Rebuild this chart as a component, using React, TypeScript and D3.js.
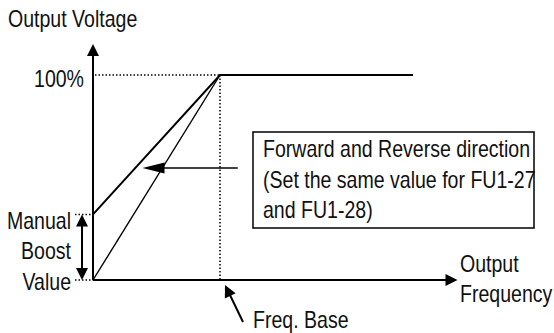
import React from 'react';
import * as d3 from 'd3';

const WIDTH = 554;
const HEIGHT = 333;

// frequency in units of base frequency, voltage in %
const BASE_FREQ = 1;
const MAX_FREQ = 2.52;
const AXIS_END_FREQ = 2.87;
const BOOST = 32;
const VOLT_TICKS = [{ v: 100, label: '100%' }];
const BOOST_LABELS = ['Manual', 'Boost', 'Value'];
const BOX_LINES = [
  'Forward and Reverse direction',
  '(Set the same value for FU1-27',
  'and FU1-28)',
];
const boostCurve = [
  { f: 0, v: BOOST },
  { f: BASE_FREQ, v: 100 },
  { f: MAX_FREQ, v: 100 },
];
const linearCurve = [
  { f: 0, v: 0 },
  { f: BASE_FREQ, v: 100 },
];

const FONT = '"Liberation Sans", Arial, sans-serif';
const NARROW = 0.85;

const x = d3.scaleLinear().domain([0, BASE_FREQ]).range([93, 220]);
const y = d3.scaleLinear().domain([0, 100]).range([280, 75]);

const line = d3.line<{ f: number; v: number }>()
  .x(d => x(d.f))
  .y(d => y(d.v));

// arrowhead polygon with tip at (tx, ty) pointing away from (fx, fy)
const head = (fx: number, fy: number, tx: number, ty: number, len = 11, half = 5.5) => {
  const a = Math.atan2(ty - fy, tx - fx);
  const bx = tx - len * Math.cos(a);
  const by = ty - len * Math.sin(a);
  const px = -Math.sin(a) * half;
  const py = Math.cos(a) * half;
  return `${tx},${ty} ${bx + px},${by + py} ${bx - px},${by - py}`;
};

// condensed text (the original uses a narrow sans)
const T = ({ x, y, anchor = 'start', children }: { x: number; y: number; anchor?: string; children: string }) => (
  <text transform={`translate(${x},${y}) scale(${NARROW},1)`} textAnchor={anchor}>{children}</text>
);

export default function App() {
  const x0 = x(0);
  const y0 = y(0);
  const yTop = 44;
  const xEnd = x(AXIS_END_FREQ);
  const yBoost = y(BOOST);
  const y100 = y(100);
  const xBase = x(BASE_FREQ);
  const dotted = { stroke: '#000', strokeWidth: 1.5, strokeDasharray: '1.5 2', fill: 'none' };

  // annotation arrow from box to the boost line
  const arrY = y(54.6);
  const arrTip = x(0.39);
  const arrTail = x(1.14);

  return (
    <svg width={WIDTH} height={HEIGHT} style={{ position: 'absolute', left: 0, top: 0, background: '#fff' }}
      fontFamily={FONT} fontSize={23} fill="#111">
      <T x={8} y={27}>Output Voltage</T>

      {/* axes */}
      <line x1={x0} y1={y0} x2={x0} y2={yTop + 8} stroke="#000" strokeWidth={2} />
      <polygon points={head(x0, y0, x0, yTop, 12, 6)} fill="#000" />
      <line x1={x0} y1={y0} x2={xEnd - 8} y2={y0} stroke="#000" strokeWidth={2} />
      <polygon points={head(x0, y0, xEnd, y0, 12, 6)} fill="#000" />

      {/* guide lines */}
      {VOLT_TICKS.map(t => (
        <g key={t.label}>
          <line x1={x0 + 2} y1={y(t.v)} x2={xBase} y2={y(t.v)} {...dotted} />
          <T x={84} y={y(t.v) + 12} anchor="end">{t.label}</T>
        </g>
      ))}
      <line x1={xBase} y1={y100} x2={xBase} y2={y0} {...dotted} />
      <line x1={75} y1={yBoost} x2={x0} y2={yBoost} {...dotted} />
      <line x1={75} y1={y0} x2={x0} y2={y0} {...dotted} />

      {/* curves */}
      <path d={line(boostCurve) || ''} fill="none" stroke="#000" strokeWidth={2} />
      <path d={line(linearCurve) || ''} fill="none" stroke="#000" strokeWidth={1.4} />

      {/* manual boost double arrow */}
      <line x1={82} y1={yBoost + 8} x2={82} y2={y0 - 8} stroke="#000" strokeWidth={2} />
      <polygon points={head(82, y0, 82, yBoost, 12, 6)} fill="#000" />
      <polygon points={head(82, yBoost, 82, y0, 12, 6)} fill="#000" />
      {BOOST_LABELS.map((s, i) => (
        <T key={s} x={71} y={[229, 259, 290][i]} anchor="end">{s}</T>
      ))}

      {/* note box */}
      <rect x={253} y={132} width={281} height={96} fill="none" stroke="#000" strokeWidth={1.5} />
      {BOX_LINES.map((s, i) => (
        <T key={s} x={263} y={157 + i * 30.5}>{s}</T>
      ))}
      <line x1={arrTail} y1={arrY} x2={arrTip + 10} y2={arrY} stroke="#000" strokeWidth={1.5} />
      <polygon points={head(arrTail, arrY, arrTip, arrY, 22, 5.5)} fill="#000" />

      {/* freq base */}
      <line x1={243} y1={322} x2={229} y2={293} stroke="#000" strokeWidth={2} />
      <polygon points={head(243, 322, 225, 285, 12, 6)} fill="#000" />
      <T x={253} y={328}>Freq. Base</T>

      <T x={460} y={272}>Output</T>
      <T x={460} y={302}>Frequency</T>
    </svg>
  );
}
